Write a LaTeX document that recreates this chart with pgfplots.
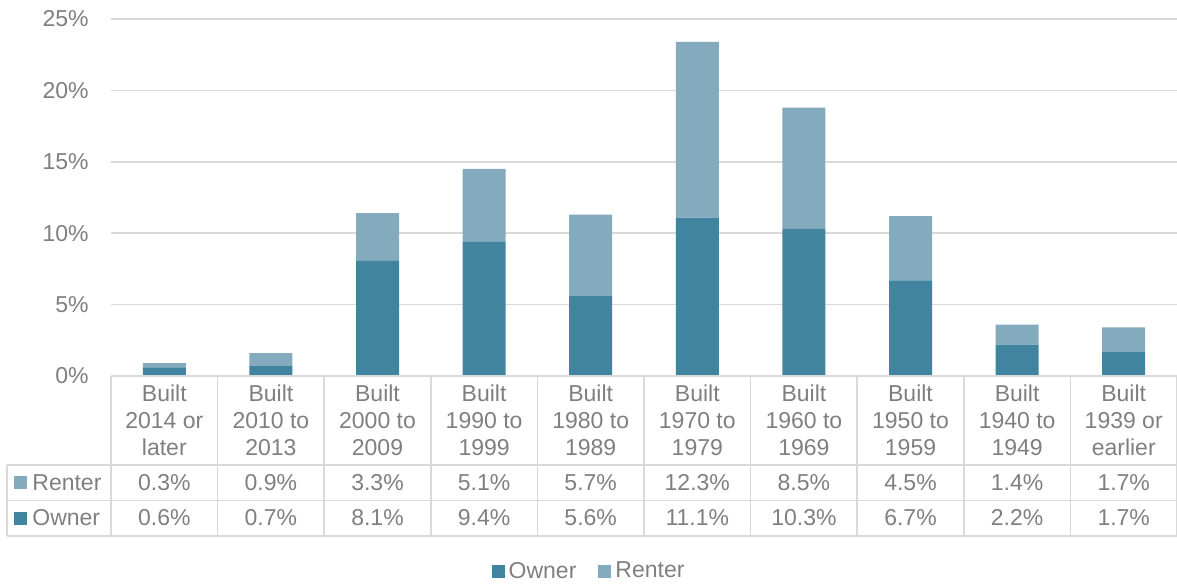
\documentclass[border=0pt]{standalone}
\usepackage{pgfplots}
\pgfplotsset{compat=1.18}
\usepackage{fontspec}
\setmainfont{Liberation Sans}
\definecolor{owner}{HTML}{41849F}
\definecolor{renter}{HTML}{84ABBD}
\definecolor{txt}{HTML}{7F7F7F}
\definecolor{gridc}{HTML}{D9D9D9}
\newcommand{\tf}{\fontsize{11.5}{13.5}\selectfont}
\begin{document}
\begin{tikzpicture}
\path[use as bounding box] (-55.5pt,-104.5pt) rectangle (533pt,188pt);
\begin{axis}[
  at={(0pt,0pt)}, anchor=south west,
  scale only axis, width=533pt, height=178.5pt,
  ybar stacked, bar width=21.5pt,
  xmin=-0.5, xmax=9.5, ymin=0, ymax=25,
  axis line style={draw=none},
  major tick length=0pt,
  ytick={0,5,10,15,20,25},
  yticklabels={0\%,5\%,10\%,15\%,20\%,25\%},
  yticklabel style={font=\tf, text=txt, anchor=east, xshift=-11pt, inner sep=0pt},
  xtick={0,...,9},
  xticklabels={{Built\\2014 or\\later},{Built\\2010 to\\2013},{Built\\2000 to\\2009},{Built\\1990 to\\1999},{Built\\1980 to\\1989},{Built\\1970 to\\1979},{Built\\1960 to\\1969},{Built\\1950 to\\1959},{Built\\1940 to\\1949},{Built\\1939 or\\earlier}},
  xticklabel style={font=\tf, text=txt, align=center, anchor=north, inner sep=0pt, yshift=-4pt},
  ymajorgrids, grid style={gridc, line width=0.75pt},
  legend columns=2,
  legend image code/.code={\fill[#1] (0pt,-3.25pt) rectangle (6.5pt,3.25pt);},
  legend style={at={(0.4494,-0.5476)}, anchor=center, draw=none, fill=none,
    font=\tf, text=txt, /tikz/every even column/.append style={column sep=9pt},
    /tikz/every odd column/.append style={column sep=0pt}},
]
\addplot[fill=owner, draw=none] coordinates {(0,0.6) (1,0.7) (2,8.1) (3,9.4) (4,5.6) (5,11.1) (6,10.3) (7,6.7) (8,2.2) (9,1.7)};
\addlegendentry{Owner}
\addplot[fill=renter, draw=none] coordinates {(0,0.3) (1,0.9) (2,3.3) (3,5.1) (4,5.7) (5,12.3) (6,8.5) (7,4.5) (8,1.4) (9,1.7)};
\addlegendentry{Renter}
\end{axis}
% table grid
\begin{scope}[gridc, line width=0.75pt]
\draw (0pt,0pt) -- (533pt,0pt);
\draw (-52pt,-44.5pt) -- (533pt,-44.5pt);
\draw (-52pt,-62.25pt) -- (533pt,-62.25pt);
\draw (-52pt,-80pt) -- (533pt,-80pt);
\draw (-52pt,-44.5pt) -- (-52pt,-80pt);
\foreach \i in {0,...,10} \draw ({\i*53.3pt},0pt) -- ({\i*53.3pt},-80pt);
\end{scope}
\fill[renter] (-48.5pt,-50pt) rectangle (-42pt,-56.25pt);
\fill[owner] (-48.5pt,-67.8pt) rectangle (-42pt,-74.3pt);
\node[font=\tf, text=txt, anchor=base west, inner sep=0pt] at (-39.5pt,-57pt) {Renter};
\node[font=\tf, text=txt, anchor=base west, inner sep=0pt] at (-39.5pt,-74.85pt) {Owner};
\foreach \v [count=\i from 0] in {0.3,0.9,3.3,5.1,5.7,12.3,8.5,4.5,1.4,1.7}
  \node[font=\tf, text=txt, anchor=base, inner sep=0pt] at ({\i*53.3pt+26.65pt},-57pt) {\v\%};
\foreach \v [count=\i from 0] in {0.6,0.7,8.1,9.4,5.6,11.1,10.3,6.7,2.2,1.7}
  \node[font=\tf, text=txt, anchor=base, inner sep=0pt] at ({\i*53.3pt+26.65pt},-74.85pt) {\v\%};
\end{tikzpicture}
\end{document}
